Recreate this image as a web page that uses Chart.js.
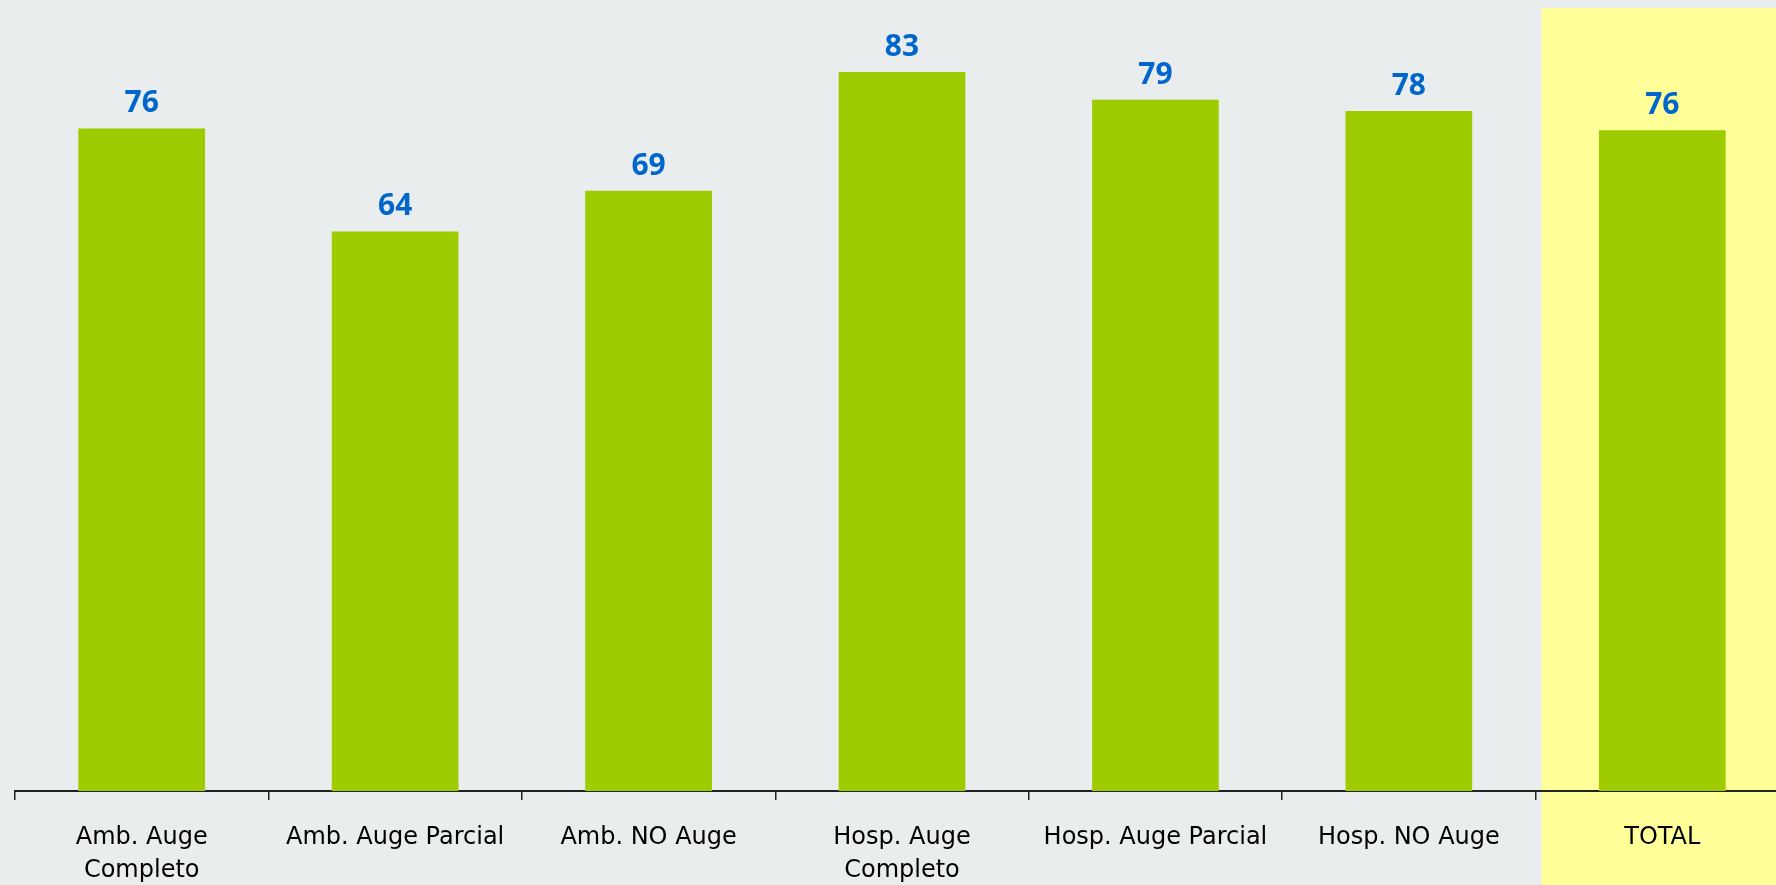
<!DOCTYPE html>
<html>
<head>
<meta charset="utf-8">
<script src="https://cdn.jsdelivr.net/npm/chart.js@4.4.1/dist/chart.umd.min.js"></script>
<style>
  html, body { margin: 0; padding: 0; overflow: hidden; background: #E9EDEE; }
  #wrap { width: 1789px; height: 885px; }
</style>
</head>
<body>
<div id="wrap"><canvas id="c" width="1789" height="885"></canvas></div>
<script>
const categories = [
  ['Amb. Auge', 'Completo'],
  'Amb. Auge Parcial',
  'Amb. NO Auge',
  ['Hosp. Auge', 'Completo'],
  'Hosp. Auge Parcial',
  'Hosp. NO Auge',
  'TOTAL'
];
const values = [76.5, 64.6, 69.3, 83.0, 79.8, 78.5, 76.3];
const highlightIndex = 6;

const BG = '#E9EDEE';
const BAR = '#9ECC00';
const LABEL_BLUE = '#0066CC';
const HIGHLIGHT = '#FFFF99';

const highlightPlugin = {
  id: 'highlight',
  beforeDraw(chart) {
    const { ctx, chartArea, scales } = chart;
    const x = scales.x;
    const half = (x.getPixelForValue(1) - x.getPixelForValue(0)) / 2;
    const left = x.getPixelForValue(highlightIndex) - half + 6;
    ctx.save();
    ctx.fillStyle = BG;
    ctx.fillRect(0, 0, chart.width, chart.height);
    ctx.fillStyle = HIGHLIGHT;
    ctx.fillRect(left, chartArea.top, chart.width - left, chart.height - chartArea.top);
    ctx.restore();
  }
};

const valueLabelPlugin = {
  id: 'valueLabels',
  afterDatasetsDraw(chart) {
    const { ctx } = chart;
    const meta = chart.getDatasetMeta(0);
    ctx.save();
    ctx.fillStyle = LABEL_BLUE;
    ctx.font = 'bold 30px "Noto Sans", "Liberation Sans", sans-serif';
    ctx.textAlign = 'center';
    ctx.textBaseline = 'alphabetic';
    meta.data.forEach((bar, i) => {
      ctx.fillText(String(Math.floor(values[i])), bar.x, bar.y - 16);
    });
    ctx.restore();
  }
};

new Chart(document.getElementById('c'), {
  type: 'bar',
  data: {
    labels: categories,
    datasets: [{
      data: values,
      backgroundColor: BAR,
      borderWidth: 0,
      barPercentage: 0.5,
      categoryPercentage: 1.0
    }]
  },
  options: {
    responsive: false,
    animation: false,
    layout: { padding: { left: 15, right: 0, top: 8, bottom: 0 } },
    plugins: { legend: { display: false }, tooltip: { enabled: false } },
    scales: {
      x: {
        offset: true,
        afterFit(scale) { scale.height = 94; },
        grid: {
          offset: true,
          drawOnChartArea: false,
          drawTicks: true,
          tickLength: 9,
          color: '#222',
          lineWidth: 1.5
        },
        border: { display: true, color: '#222', width: 2 },
        ticks: {
          color: '#000',
          padding: 21,
          maxRotation: 0,
          autoSkip: false,
          font: { family: '"DejaVu Sans", sans-serif', size: 24, lineHeight: 1.375 }
        }
      },
      y: {
        display: false,
        min: 0,
        max: 90.4
      }
    }
  },
  plugins: [highlightPlugin, valueLabelPlugin]
});
</script>
</body>
</html>
